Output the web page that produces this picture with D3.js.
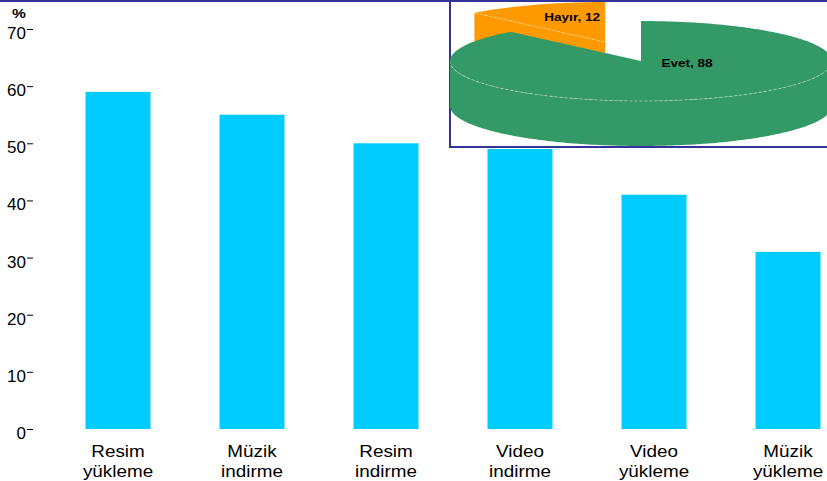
<!DOCTYPE html>
<html>
<head>
<meta charset="utf-8">
<script src="https://cdn.jsdelivr.net/npm/d3@7"></script>
<style>
  body { margin: 0; background: #fff; }
  text { font-family: "Liberation Sans", Arial, sans-serif; fill: #000; }
</style>
</head>
<body>
<svg id="chart" width="827" height="481"></svg>
<script>

var width = 827,
  height = 481;

// bar chart data
var categories = [ "Resim yükleme", "Müzik indirme", "Resim indirme", "Video indirme", "Video yükleme", "Müzik yükleme" ];
var percents = [ 59, 55, 50, 49, 41, 31 ];
var yTicks = [ 0, 10, 20, 30, 40, 50, 60, 70 ];

// inset pie data
var pieLabels = [ "Evet", "Hayır" ];
var pieValues = [ 88, 12 ];
var pieColors = [ "#339966", "#FF9900" ];

var svg = d3.select( "#chart" );

var yScale = d3.scaleLinear()
  .domain( [ 0, 70 ] )
  .range( [ 429, 29 ] );

var xScale = d3.scaleBand()
  .domain( categories )
  .range( [ 51, 855 ] )
  .paddingInner( 0.515 )
  .paddingOuter( 0.2575 );

// bars
svg.selectAll( "rect.bar" )
  .data( categories )
  .enter().append( "rect" )
    .attr( "class", "bar" )
    .attr( "x", d => xScale( d ) )
    .attr( "y", ( d, i ) => yScale( percents[ i ] ) )
    .attr( "width", xScale.bandwidth() )
    .attr( "height", ( d, i ) => yScale( 0 ) - yScale( percents[ i ] ) )
    .attr( "fill", "#00CCFF" );

// y axis, no domain line
var yAxis = d3.axisLeft( yScale )
  .tickValues( yTicks )
  .tickSize( 6 )
  .tickPadding( 1 );

var yG = svg.append( "g" )
  .attr( "class", "y axis" )
  .attr( "transform", "translate(33,0)" )
  .call( yAxis );

yG.select( ".domain" ).remove();
yG.selectAll( "line" ).attr( "stroke", "#000" ).attr( "stroke-width", 1 );
yG.selectAll( "text" )
  .attr( "dy", "0.56em" )
  .style( "font-family", "'Liberation Sans', Arial, sans-serif" )
  .style( "font-size", "17px" )
  .attr( "fill", "#000" );

svg.append( "text" )
  .attr( "transform", "translate(12,18) scale(1.3,1)" )
  .style( "font-size", "12px" )
  .style( "font-weight", "bold" )
  .text( "%" );

// category labels, two lines each
var catLabels = svg.selectAll( "g.catLabel" )
  .data( categories )
  .enter().append( "g" )
    .attr( "class", "catLabel" );

catLabels.each( function( d ) {
  var g = d3.select( this );
  var cx = xScale( d ) + xScale.bandwidth() / 2;
  d.split( " " ).forEach( ( w, j ) => {
    g.append( "text" )
      .attr( "transform", "translate(" + cx + "," + ( 457 + j * 20 ) + ") scale(1.18,1)" )
      .attr( "text-anchor", "middle" )
      .style( "font-size", "16px" )
      .text( w );
  } );
} );

// top rule
svg.append( "rect" )
  .attr( "x", 0 )
  .attr( "y", 0 )
  .attr( "width", width )
  .attr( "height", 2 )
  .attr( "fill", "#333399" );

// inset box
var inset = svg.append( "g" ).attr( "class", "inset" );

svg.append( "clipPath" )
  .attr( "id", "insetClip" )
  .append( "rect" )
    .attr( "x", 450 )
    .attr( "y", 1 )
    .attr( "width", 380 )
    .attr( "height", 146 );

inset.append( "rect" )
  .attr( "x", 450 )
  .attr( "y", 1 )
  .attr( "width", 390 )
  .attr( "height", 146 )
  .attr( "fill", "#fff" )
  .attr( "stroke", "#333399" )
  .attr( "stroke-width", 2 );

// 3D pie
var pcx = 641,
  pcy = 61,
  rx = 191,
  ry = 40,
  depth = 45,
  explode = 0.51;

var pie = d3.pie().sort( null );
var slices = pie( pieValues );

function pt( cx, cy, a ) {
  return [ cx + rx * Math.sin( a ), cy - ry * Math.cos( a ) ];
}

function arcPts( cx, cy, a0, a1 ) {
  var n = Math.max( 2, Math.ceil( Math.abs( a1 - a0 ) / 0.02 ) );
  return d3.range( n + 1 ).map( k => pt( cx, cy, a0 + ( a1 - a0 ) * k / n ) );
}

var line = d3.line();

var pieG = inset.append( "g" ).attr( "clip-path", "url(#insetClip)" );

function dashed( g, pts ) {
  g.append( "path" )
    .attr( "d", line( pts ) )
    .attr( "fill", "none" )
    .attr( "stroke", "#ffffff" )
    .attr( "stroke-opacity", 0.5 )
    .attr( "stroke-width", 0.8 )
    .attr( "stroke-dasharray", "3,2" );
}

// draw back slice first
var order = slices.map( ( s, i ) => i ).sort( ( a, b ) => {
  var ma = ( slices[ a ].startAngle + slices[ a ].endAngle ) / 2,
    mb = ( slices[ b ].startAngle + slices[ b ].endAngle ) / 2;
  return Math.cos( mb ) - Math.cos( ma );
} );

order.forEach( i => {
  var s = slices[ i ];
  var mid = ( s.startAngle + s.endAngle ) / 2;
  var cx = pcx, cy = pcy;
  if ( i === 1 ) {
    cx += explode * rx * Math.sin( mid );
    cy -= explode * ry * Math.cos( mid );
  }
  var col = pieColors[ i ];
  var g = pieG.append( "g" );
  var edges = [];

  // cut faces facing the viewer
  [ [ s.startAngle, Math.sin( s.startAngle ) < -0.01 ], [ s.endAngle, Math.sin( s.endAngle ) > 0.01 ] ].forEach( f => {
    if ( !f[ 1 ] ) return;
    var e = pt( cx, cy, f[ 0 ] );
    g.append( "path" )
      .attr( "d", line( [ [ cx, cy ], e, [ e[ 0 ], e[ 1 ] + depth ], [ cx, cy + depth ] ] ) + "Z" )
      .attr( "fill", col );
    edges.push( [ e, [ cx, cy ] ] );
  } );

  // front outer wall
  var w0 = Math.max( s.startAngle, Math.PI / 2 ),
    w1 = Math.min( s.endAngle, 3 * Math.PI / 2 );
  if ( w1 > w0 ) {
    var top = arcPts( cx, cy, w0, w1 );
    var bot = top.map( p => [ p[ 0 ], p[ 1 ] + depth ] ).reverse();
    g.append( "path" )
      .attr( "d", line( top.concat( bot ) ) + "Z" )
      .attr( "fill", col );
    edges.push( top );
  }

  // top face
  var face = [ [ cx, cy ] ].concat( arcPts( cx, cy, s.startAngle, s.endAngle ) );
  g.append( "path" )
    .attr( "d", line( face ) + "Z" )
    .attr( "fill", col );

  edges.forEach( e => dashed( g, e ) );
} );

// pie labels
var labelOffsets = [ [ 46, 6 ], [ -33, -21 ] ];
slices.forEach( ( s, i ) => {
  var mid = ( s.startAngle + s.endAngle ) / 2;
  var cx = pcx, cy = pcy;
  if ( i === 1 ) {
    cx += explode * rx * Math.sin( mid );
    cy -= explode * ry * Math.cos( mid );
  }
  inset.append( "text" )
    .attr( "transform", "translate(" + ( cx + labelOffsets[ i ][ 0 ] ) + "," + ( cy + labelOffsets[ i ][ 1 ] ) + ") scale(1.18,1)" )
    .attr( "text-anchor", "middle" )
    .style( "font-size", "11.5px" )
    .style( "font-weight", "bold" )
    .text( pieLabels[ i ] + ", " + pieValues[ i ] );
} );

</script>
</body>
</html>
